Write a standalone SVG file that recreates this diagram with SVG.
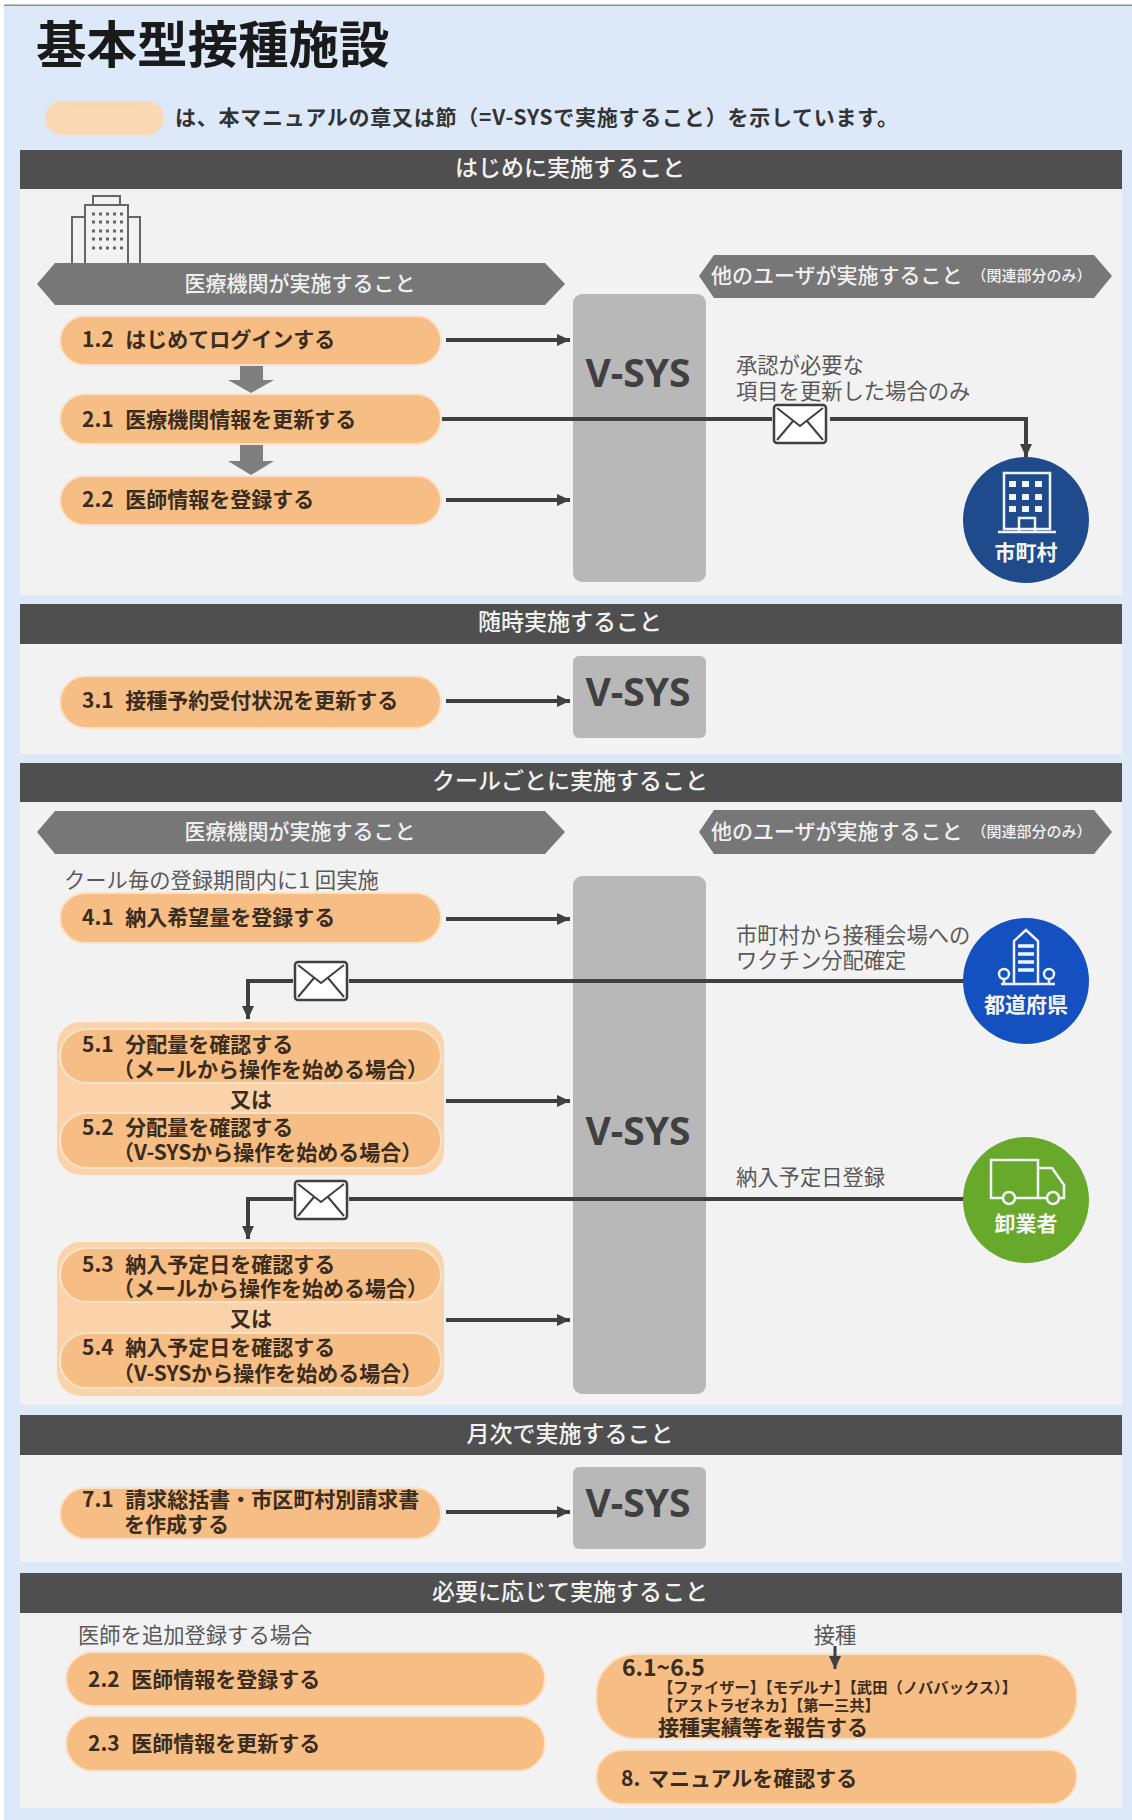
<svg xmlns="http://www.w3.org/2000/svg" width="1132" height="1820" viewBox="0 0 1132 1820">
<style>
text{font-family:"Noto Sans CJK JP","Noto Sans",sans-serif;dominant-baseline:central;transform:translateY(-2px)}
.hdr{fill:#4f4f4f}.panel{fill:#f2f2f2}
.ht{fill:#f2f2f2;font-size:23px;font-weight:500;text-anchor:middle}
.band{fill:#777}
.bt{fill:#f0f0f0;font-size:21px;font-weight:500}
.pill{fill:#f6bd84;stroke:#fbe2c8;stroke-width:2}
.grp{fill:#fad3aa}
.it{fill:#3a2c1e;font-size:21px;font-weight:700;word-spacing:7px}
.sm{fill:#3a2c1e;font-size:15.3px;font-weight:700}
.lb{fill:#595959;font-size:21.3px;font-weight:400}
.vb{fill:#b8b8b8}
.vt{fill:#404040;font-size:39px;font-weight:700;text-anchor:middle;font-family:"Noto Sans","Open Sans",sans-serif}
.ct{fill:#f4f4f4;font-size:21px;font-weight:700;text-anchor:middle}
.ln{fill:none;stroke:#404040;stroke-width:4}
.ib{fill:#7f7f7f}
.env{fill:#fff;stroke:#404040;stroke-width:2.5}
.envl{fill:none;stroke:#404040;stroke-width:2}
.ic{fill:none;stroke:#f0f4fa;stroke-width:2.5}
.bi{fill:none;stroke:#666;stroke-width:2}
</style>
<defs>
<marker id="ah" markerUnits="userSpaceOnUse" markerWidth="14" markerHeight="14" refX="13" refY="7" orient="auto"><path d="M0 1 L13 7 L0 13 Z" fill="#404040"/></marker>
<g id="envelope"><rect class="env" width="52" height="38" rx="3"/><path class="envl" d="M3 3 L26 21 L49 3 M3 35 L19 16 M49 35 L33 16"/></g>
</defs>

<rect x="4" y="5" width="1128" height="1815" fill="#dde9f8"/>
<rect x="4" y="4.5" width="1128" height="1.5" fill="#8a8f96"/>

<g id="title"><text x="36" y="43" font-size="50.5" font-weight="700" fill="#1a1a1a">基本型接種施設</text></g>
<g id="legend"><rect x="45" y="101" width="119" height="34" rx="17" fill="#fad8b4"/>
<text x="175" y="118" font-size="21" font-weight="700" fill="#333" textLength="723">は、本マニュアルの章又は節（=V-SYSで実施すること）を示しています。</text></g>

<g id="section1"><rect class="panel" x="20" y="189" width="1102" height="406"/><rect class="hdr" x="20" y="150" width="1102" height="39"/><text class="ht" x="570" y="168">はじめに実施すること</text></g>
<g id="section2"><rect class="panel" x="20" y="644" width="1102" height="110"/><rect class="hdr" x="20" y="604" width="1102" height="40"/><text class="ht" x="570" y="622">随時実施すること</text></g>
<g id="section3"><rect class="panel" x="20" y="802" width="1102" height="603"/><rect class="hdr" x="20" y="763" width="1102" height="39"/><text class="ht" x="570" y="781">クールごとに実施すること</text></g>
<g id="section4"><rect class="panel" x="20" y="1455" width="1102" height="107"/><rect class="hdr" x="20" y="1415" width="1102" height="40"/><text class="ht" x="570" y="1434">月次で実施すること</text></g>
<g id="section5"><rect class="panel" x="20" y="1613" width="1102" height="195"/><rect class="hdr" x="20" y="1573" width="1102" height="40"/><text class="ht" x="570" y="1592">必要に応じて実施すること</text></g>

<g id="hospital-icon" class="bi">
<rect x="93" y="196" width="27" height="9"/><rect x="85" y="205" width="43" height="59"/><path d="M85 217H72V264M128 217H140V264M68 264H146"/>
<path d="M92 214H123M92 222H123M92 231H123M92 239H123M92 248H123" stroke-dasharray="3 4" stroke-width="3"/>
</g>

<g id="band-left-1"><path class="band" d="M37 284L55 263H545L565 284L545 305H55Z"/><text class="bt" x="300" y="284" text-anchor="middle">医療機関が実施すること</text></g>
<g id="band-right-1"><path class="band" d="M699 276L714 255H1094L1112 276L1094 298H714Z"/><text class="bt" x="711" y="276">他のユーザが実施すること<tspan font-size="15" dx="9">（関連部分のみ）</tspan></text></g>
<g id="band-left-3"><path class="band" d="M37 832L55 811H545L565 832L545 854H55Z"/><text class="bt" x="300" y="832" text-anchor="middle">医療機関が実施すること</text></g>
<g id="band-right-3"><path class="band" d="M699 832L714 810H1094L1112 832L1094 854H714Z"/><text class="bt" x="711" y="832">他のユーザが実施すること<tspan font-size="15" dx="9">（関連部分のみ）</tspan></text></g>

<g id="vsys-1"><rect class="vb" x="573" y="294" width="133" height="288" rx="9"/><text class="vt" x="638" y="373">V-SYS</text></g>
<g id="vsys-2"><rect class="vb" x="573" y="656" width="133" height="82" rx="6"/><text class="vt" x="638" y="692">V-SYS</text></g>
<g id="vsys-3"><rect class="vb" x="573" y="876" width="133" height="518" rx="9"/><text class="vt" x="638" y="1131">V-SYS</text></g>
<g id="vsys-4"><rect class="vb" x="573" y="1467" width="133" height="82" rx="6"/><text class="vt" x="638" y="1503">V-SYS</text></g>

<g id="connectors">
<path class="ln" marker-end="url(#ah)" d="M446 340H570"/>
<path class="ln" marker-end="url(#ah)" d="M442 419H1026V457"/>
<path class="ln" marker-end="url(#ah)" d="M446 500H570"/>
<path class="ln" marker-end="url(#ah)" d="M446 701H570"/>
<path class="ln" marker-end="url(#ah)" d="M446 919H570"/>
<path class="ln" marker-end="url(#ah)" d="M1000 981H248V1019"/>
<path class="ln" marker-end="url(#ah)" d="M446 1101H570"/>
<path class="ln" marker-end="url(#ah)" d="M1000 1199H248V1239"/>
<path class="ln" marker-end="url(#ah)" d="M446 1320H570"/>
<path class="ln" marker-end="url(#ah)" d="M446 1512H570"/>
<path class="ib" d="M240 365H263V380H274L251 393L228 380H240Z"/>
<path class="ib" d="M240 445H263V461H274L251 475L228 461H240Z"/>
</g>

<g id="mail-1"><rect x="772" y="402" width="58" height="44" fill="#f2f2f2"/><use href="#envelope" x="774" y="405"/></g>
<g id="mail-2"><rect x="293" y="959" width="56" height="44" fill="#f2f2f2"/><use href="#envelope" x="295" y="962"/></g>
<g id="mail-3"><rect x="293" y="1178" width="56" height="44" fill="#f2f2f2"/><use href="#envelope" x="295" y="1181"/></g>

<g id="n1-2"><rect class="pill" x="60" y="316" width="381" height="49" rx="24.5"/><text class="it" x="82" y="340">1.2 はじめてログインする</text></g>
<g id="n2-1"><rect class="pill" x="60" y="394" width="381" height="50" rx="25"/><text class="it" x="82" y="420">2.1 医療機関情報を更新する</text></g>
<g id="n2-2"><rect class="pill" x="60" y="476" width="381" height="49" rx="24.5"/><text class="it" x="82" y="500">2.2 医師情報を登録する</text></g>
<g id="n3-1"><rect class="pill" x="60" y="676" width="381" height="52" rx="26"/><text class="it" x="82" y="701">3.1 接種予約受付状況を更新する</text></g>
<g id="n-note"><text class="lb" x="64" y="880">クール毎の登録期間内に1 回実施</text></g>
<g id="n4-1"><rect class="pill" x="60" y="893" width="381" height="50" rx="25"/><text class="it" x="82" y="918">4.1 納入希望量を登録する</text></g>

<g id="group-5-1"><rect class="grp" x="57" y="1022" width="387" height="153" rx="24"/>
<rect class="pill" x="60" y="1029" width="381" height="54" rx="27"/><text class="it" x="82" y="1045">5.1 分配量を確認する</text><text class="it" x="113" y="1070">（メールから操作を始める場合）</text>
<text class="it" x="251" y="1100" text-anchor="middle">又は</text>
<rect class="pill" x="60" y="1113" width="381" height="55" rx="27"/><text class="it" x="82" y="1128">5.2 分配量を確認する</text><text class="it" x="113" y="1153">（V-SYSから操作を始める場合）</text></g>
<g id="group-5-3"><rect class="grp" x="57" y="1242" width="387" height="154" rx="24"/>
<rect class="pill" x="60" y="1248" width="381" height="54" rx="27"/><text class="it" x="82" y="1265">5.3 納入予定日を確認する</text><text class="it" x="113" y="1289">（メールから操作を始める場合）</text>
<text class="it" x="251" y="1319" text-anchor="middle">又は</text>
<rect class="pill" x="60" y="1333" width="381" height="55" rx="27"/><text class="it" x="82" y="1348">5.4 納入予定日を確認する</text><text class="it" x="113" y="1374">（V-SYSから操作を始める場合）</text></g>

<g id="n7-1"><rect class="pill" x="60" y="1488" width="381" height="51" rx="25.5"/><text class="it" x="82" y="1500">7.1 請求総括書・市区町村別請求書</text><text class="it" x="124" y="1525">を作成する</text></g>

<g id="labels">
<text class="lb" x="736" y="365">承認が必要な</text><text class="lb" x="736" y="391">項目を更新した場合のみ</text>
<text class="lb" x="736" y="935">市町村から接種会場への</text><text class="lb" x="736" y="960">ワクチン分配確定</text>
<text class="lb" x="736" y="1177">納入予定日登録</text>
<text class="lb" x="78" y="1635">医師を追加登録する場合</text>
<text class="lb" x="835" y="1635" text-anchor="middle">接種</text>
</g>

<g id="shichoson"><circle cx="1026" cy="520" r="63" fill="#1f4a8c"/>
<g class="ic"><rect x="1004" y="473" width="46" height="56"/><path d="M998 532H1056M1019 532V518H1035V532"/><path d="M1009 484H1045M1009 497H1045M1009 509H1045" stroke-dasharray="7 6" stroke-width="6"/></g>
<text class="ct" x="1026" y="553">市町村</text></g>
<g id="todofuken"><circle cx="1026" cy="981" r="63" fill="#1450c0"/>
<g class="ic"><path d="M1014 983V941L1026 930L1038 941V983M1001 984H1055"/><path d="M1018 946H1034M1018 954H1034M1018 962H1034M1018 970H1034" stroke-width="3.5"/><circle cx="1004" cy="974" r="5"/><circle cx="1049" cy="974" r="5"/><path d="M1004 979V984M1049 979V984"/></g>
<text class="ct" x="1026" y="1005">都道府県</text></g>
<g id="oroshi"><circle cx="1026" cy="1200" r="63" fill="#68a82b"/>
<g class="ic"><path d="M1003 1198H991V1160H1038V1198H1016M1038 1168H1052L1064 1185V1198H1060M1047 1198H1038"/><circle cx="1009" cy="1198" r="6"/><circle cx="1053" cy="1198" r="6"/></g>
<text class="ct" x="1026" y="1224">卸業者</text></g>

<g id="n2-2b"><rect class="pill" x="66" y="1652" width="479" height="54" rx="27"/><text class="it" x="88" y="1680">2.2 医師情報を登録する</text></g>
<g id="n2-3"><rect class="pill" x="66" y="1716" width="479" height="55" rx="27"/><text class="it" x="88" y="1744">2.3 医師情報を更新する</text></g>
<g id="n6"><rect class="pill" x="596" y="1654" width="481" height="85" rx="40"/>
<text class="it" x="622" y="1668" font-size="23" style="font-size:23px">6.1~6.5</text>
<text class="sm" x="658" y="1688">【ファイザー】【モデルナ】【武田（ノババックス）】</text>
<text class="sm" x="658" y="1706">【アストラゼネカ】【第一三共】</text>
<text class="it" x="658" y="1728">接種実績等を報告する</text></g>
<g id="n8"><rect class="pill" x="596" y="1750" width="481" height="54" rx="27"/><text class="it" x="621" y="1779" style="word-spacing:3px">8. マニュアルを確認する</text></g>
<path class="ln" style="stroke-width:3" marker-end="url(#ah)" d="M835 1646V1669"/>
</svg>
